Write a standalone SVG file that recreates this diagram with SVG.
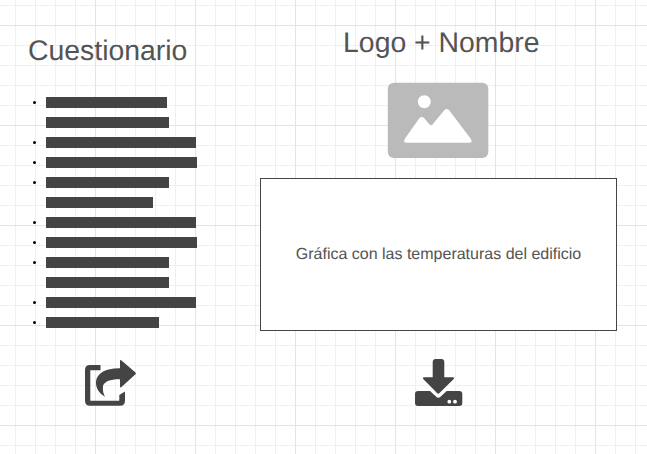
<svg xmlns="http://www.w3.org/2000/svg" width="647" height="454" viewBox="0 0 647 454">
<style>
.t{font-family:"Liberation Sans",Arial,sans-serif;fill:#525252;text-rendering:geometricPrecision;opacity:.99}
.b{fill:#444}
.d{fill:#000}
</style>
<defs>
<pattern id="g" width="20" height="20" patternUnits="userSpaceOnUse" x="15" y="5"><path d="M0 0H20V1H1V20H0Z" fill="#f0f0f0"/></pattern>
<pattern id="G" width="100" height="100" patternUnits="userSpaceOnUse" x="95" y="25"><path d="M0 0H100V1H1V100H0Z" fill="#e4e4e4"/></pattern>
</defs>
<rect width="647" height="454" fill="#fff"/>
<rect width="647" height="454" fill="url(#g)"/>
<rect width="647" height="454" fill="url(#G)"/>
<g id="title-left"><text class="t" x="107.700" y="60" font-size="28.400" text-anchor="middle">Cuestionario</text></g>
<g id="title-right"><text class="t" x="441.300" y="52" font-size="28.400" text-anchor="middle">Logo + Nombre</text></g>
<g id="list">
<rect class="b" x="46" y="97" width="121" height="11"/>
<rect class="b" x="46" y="117" width="123" height="11"/>
<rect class="b" x="46" y="137" width="150" height="11"/>
<rect class="b" x="46" y="157" width="151" height="11"/>
<rect class="b" x="46" y="177" width="123" height="11"/>
<rect class="b" x="46" y="197" width="107" height="11"/>
<rect class="b" x="46" y="217" width="150" height="11"/>
<rect class="b" x="46" y="237" width="151" height="11"/>
<rect class="b" x="46" y="257" width="123" height="11"/>
<rect class="b" x="46" y="277" width="123" height="11"/>
<rect class="b" x="46" y="297" width="150" height="11"/>
<rect class="b" x="46" y="317" width="113" height="11"/>
<circle class="d" cx="34.500" cy="102.500" r="1.500"/>
<circle class="d" cx="34.500" cy="142.500" r="1.500"/>
<circle class="d" cx="34.500" cy="162.500" r="1.500"/>
<circle class="d" cx="34.500" cy="182.500" r="1.500"/>
<circle class="d" cx="34.500" cy="222.500" r="1.500"/>
<circle class="d" cx="34.500" cy="242.500" r="1.500"/>
<circle class="d" cx="34.500" cy="262.500" r="1.500"/>
<circle class="d" cx="34.500" cy="302.500" r="1.500"/>
<circle class="d" cx="34.500" cy="322.500" r="1.500"/>
</g>
<g id="image-icon">
<rect x="387.800" y="82.800" width="100.500" height="75.200" rx="6" fill="#bababa"/>
<circle cx="424.300" cy="101.700" r="6.500" fill="#fff"/>
<path d="M405 138.500L419.500 118Q421.700 115.800 424 118L429.500 124.500Q431 126 432.500 124.500L444.500 110Q446.700 108 449 110L470.500 138.500Q473.500 142.800 469 142.800H406.500Q402.500 142.800 405 138.500Z" fill="#fff"/>
</g>
<g id="chart"><rect x="260.500" y="178.500" width="356" height="152" fill="#fff" stroke="#444"/>
<text class="t" x="438.500" y="259" font-size="16" text-anchor="middle">Gráfica con las temperaturas del edificio</text></g>
<g id="share-icon" fill="#444">
<path d="M100.500 365H90Q85 365 85 370V400.500Q85 405.800 90 405.800H120Q125 405.800 125 400.500V391.500L119.300 395V400.700H90.300V370.300H100.500Z"/>
<path d="M120 361Q120 359.500 121.500 360.500L135.500 372.500Q136.200 373.300 135.500 374.200L121.500 387Q120 388 120 386.500V379.300C112 379 104.500 381 103 386C102.500 391 103.500 394 105 396.700C99 393 95.500 388 96 381.500C97 373 106 368 120 368.300Z"/>
</g>
<g id="download-icon" fill="#444">
<path d="M432.700 362Q432.700 359 435.700 359H441.300Q444.300 359 444.300 362V377.300H453Q455 377.500 453.500 379.300L439.500 393Q438.300 394.300 437 393L423.500 379.300Q422 377.500 424 377.300H432.700Z"/>
<path d="M418 391H430L436.500 397Q438.300 398.500 440.200 397L446.700 391H459.300Q462.300 391 462.300 394V403Q462.300 406 459.300 406H418Q415 406 415 403V394Q415 391 418 391Z"/>
<circle cx="449.300" cy="401.700" r="1.900" fill="#fff"/>
<circle cx="455" cy="401.700" r="1.900" fill="#fff"/>
</g>
<g id="connectors"/>
</svg>
